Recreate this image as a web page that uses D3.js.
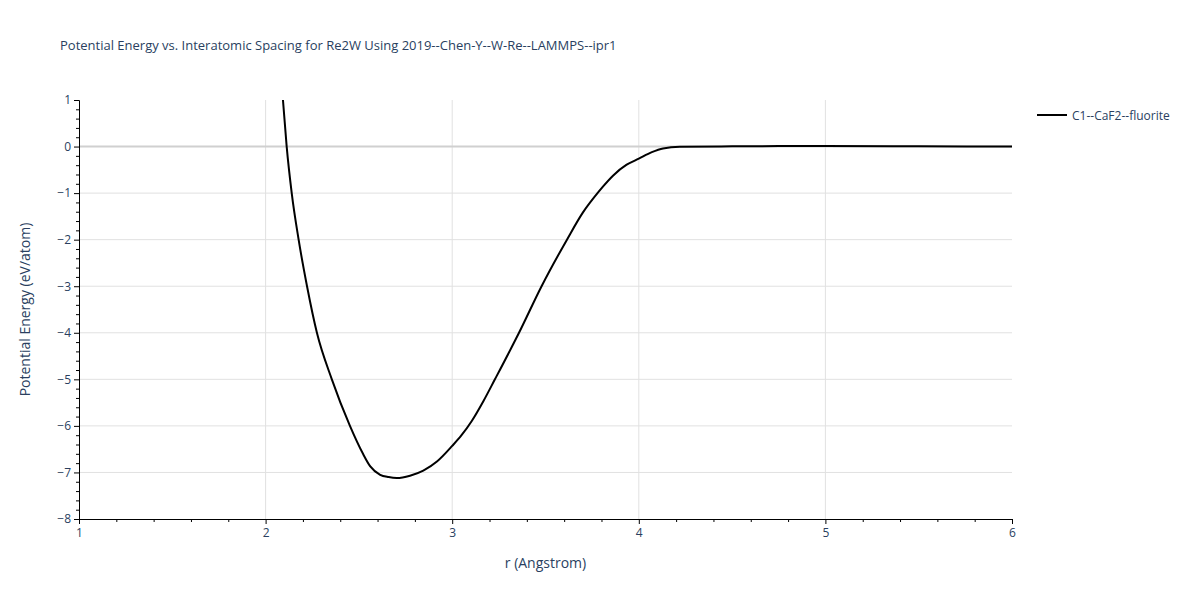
<!DOCTYPE html>
<html><head><meta charset="utf-8">
<script src="https://cdn.jsdelivr.net/npm/d3@7"></script>
<style>body{margin:0;background:#fff;} svg{display:block;font-family:"Open Sans",verdana,arial,sans-serif;}</style>
</head><body>
<svg id="chart" width="1200" height="600"></svg>
<script>
const title = "Potential Energy vs. Interatomic Spacing for Re2W Using 2019--Chen-Y--W-Re--LAMMPS--ipr1";
const seriesName = "C1--CaF2--fluorite";
const rValues = [2.06, 2.093, 2.113, 2.140, 2.177, 2.222, 2.275, 2.355, 2.452, 2.522, 2.561, 2.614, 2.659, 2.703, 2.774, 2.845, 2.920, 3.0, 3.05, 3.104, 3.167, 3.229, 3.358, 3.479, 3.615, 3.70, 3.783, 3.81, 3.863, 3.935, 4.0, 4.07, 4.13, 4.22, 4.5, 4.75, 5.0, 5.5, 6.0];
const energyValues = [2.3, 1.0, 0.0, -1.0, -2.0, -3.0, -4.0, -5.0, -6.0, -6.6, -6.87, -7.05, -7.1, -7.12, -7.07, -6.96, -6.76, -6.43, -6.2, -5.9, -5.47, -5.0, -4.0, -3.0, -2.0, -1.42, -0.98, -0.85, -0.62, -0.39, -0.26, -0.12, -0.04, -0.005, 0.005, 0.01, 0.01, 0.005, 0.0];
const xTicks = [1, 2, 3, 4, 5, 6];
const yTicks = [1, 0, -1, -2, -3, -4, -5, -6, -7, -8];

const svg = d3.select("#chart");
const L = 79, R = 1012, T = 100, B = 519;
const x = d3.scaleLinear().domain([1, 6]).range([L, R]);
const y = d3.scaleLinear().domain([-8, 1]).range([B, T]);
const txt = "#2a3f5f";
const fmt = d => d < 0 ? "\u2212" + Math.abs(d) : String(d);

// grid
svg.append("g").selectAll("line").data(xTicks.filter(d => d > 1 && d < 6)).join("line")
  .attr("x1", d => x(d)).attr("x2", d => x(d)).attr("y1", T).attr("y2", B)
  .attr("stroke", "#e1e1e1").attr("stroke-width", 1);
svg.append("g").selectAll("line").data(yTicks.filter(d => d !== 0 && d > -8 && d < 1)).join("line")
  .attr("x1", L).attr("x2", R).attr("y1", d => y(d)).attr("y2", d => y(d))
  .attr("stroke", "#e1e1e1").attr("stroke-width", 1);
// zero line
svg.append("line").attr("x1", L).attr("x2", R).attr("y1", y(0)).attr("y2", y(0))
  .attr("stroke", "#d0d0d0").attr("stroke-width", 2);

// curve
svg.append("defs").append("clipPath").attr("id", "clip").append("rect")
  .attr("x", L).attr("y", T).attr("width", R - L).attr("height", B - T);
const pts = rValues.map((r, i) => [r, energyValues[i]]);
svg.append("path").datum(pts).attr("clip-path", "url(#clip)")
  .attr("d", d3.line().x(d => x(d[0])).y(d => y(d[1])).curve(d3.curveMonotoneX))
  .attr("fill", "none").attr("stroke", "#000").attr("stroke-width", 2);

// axes
const xMinor = d3.range(1, 6.001, 0.2).map(v => +v.toFixed(1)).filter(v => !xTicks.includes(v));
const yMinor = d3.range(-8, 1.001, 0.2).map(v => +v.toFixed(1)).filter(v => !yTicks.includes(v));
svg.append("g").attr("transform", `translate(0,${B})`)
  .call(d3.axisBottom(x).tickValues(xTicks).tickFormat(fmt).tickSize(5).tickPadding(4));
svg.append("g").attr("transform", `translate(0,${B})`)
  .call(d3.axisBottom(x).tickValues(xMinor).tickFormat("").tickSize(3))
  .call(g => g.select(".domain").remove());
svg.append("g").attr("transform", `translate(${L},0)`)
  .call(d3.axisLeft(y).tickValues(yTicks).tickFormat(fmt).tickSize(5).tickPadding(3));
svg.append("g").attr("transform", `translate(${L},0)`)
  .call(d3.axisLeft(y).tickValues(yMinor).tickFormat("").tickSize(3))
  .call(g => g.select(".domain").remove());
svg.selectAll(".domain").attr("stroke", "#000").attr("stroke-width", 1);
svg.selectAll(".tick line").attr("stroke", "#000");
svg.selectAll(".tick text").attr("fill", txt).style("font-size", "12px").style("font-family", '"Open Sans",verdana,arial,sans-serif');
svg.selectAll(".domain").each(function(){ this.parentNode.appendChild(this); });

// titles
svg.append("text").attr("x", 60).attr("y", 50).text(title)
  .attr("fill", txt).style("font-size", "13px");
svg.append("text").attr("x", (L + R) / 2).attr("y", 568).attr("text-anchor", "middle")
  .text("r (Angstrom)").attr("fill", txt).style("font-size", "14px");
svg.append("text").attr("transform", `translate(30,${(T + B) / 2}) rotate(-90)`).attr("text-anchor", "middle")
  .text("Potential Energy (eV/atom)").attr("fill", txt).style("font-size", "14px");

// legend
svg.append("line").attr("x1", 1037).attr("x2", 1067).attr("y1", 115).attr("y2", 115)
  .attr("stroke", "#000").attr("stroke-width", 2);
svg.append("text").attr("x", 1072).attr("y", 119.5).text(seriesName)
  .attr("fill", txt).style("font-size", "12px");
</script>
</body></html>
